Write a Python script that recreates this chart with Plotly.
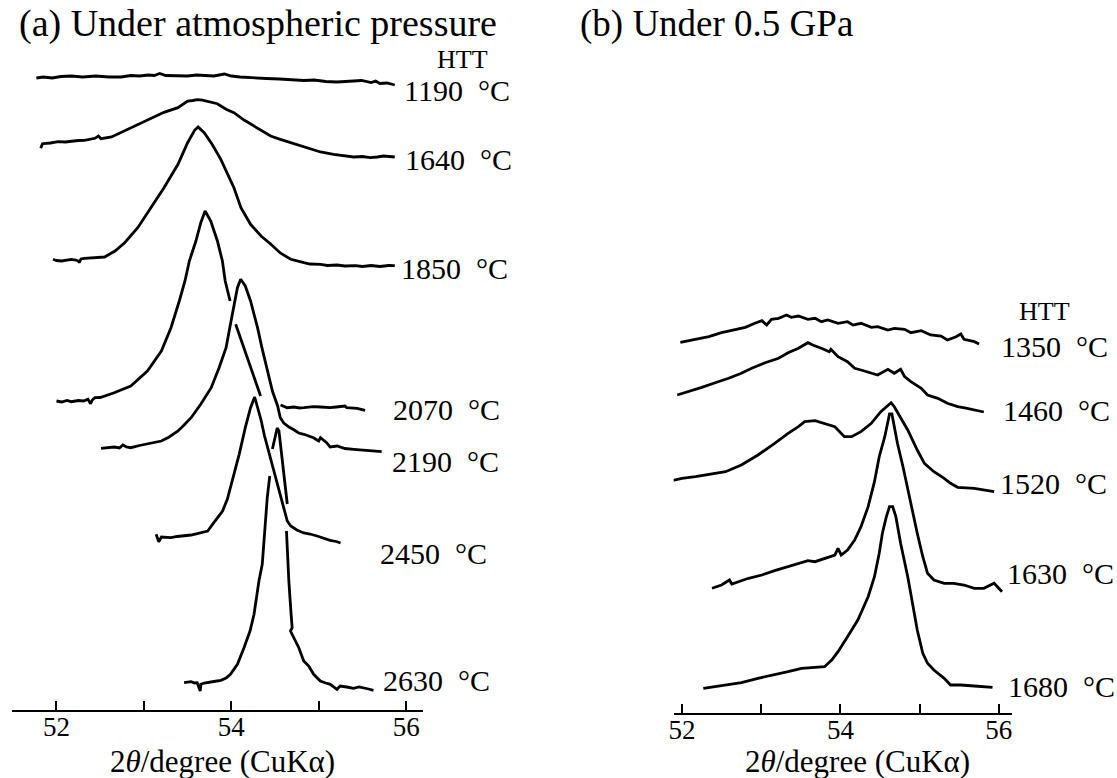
import plotly.graph_objects as go

FONT = "Liberation Serif, Times New Roman, serif"

# ---------------- Panel (a): under atmospheric pressure ----------------
a_htt = ["1190 °C", "1640 °C", "1850 °C", "2070 °C", "2190 °C", "2450 °C", "2630 °C"]

a1190_x = [51.77, 51.85, 51.95, 52.05, 52.17, 52.30, 52.45, 52.60, 52.74, 52.85, 52.95, 53.05, 53.12,
           53.18, 53.25, 53.35, 53.50, 53.60, 53.70, 53.80, 53.92, 54.00, 54.10, 54.26, 54.40, 54.55,
           54.70, 54.83, 54.95, 55.08, 55.21, 55.35, 55.49, 55.60, 55.65, 55.70, 55.78, 55.87]
a1190_y = [632, 633, 632, 633.5, 634, 633, 634, 633, 633, 634.5, 634, 635, 634.5,
           636.5, 634.5, 634, 634, 635, 634.5, 634, 636, 634, 633, 632, 631.5, 631,
           630.5, 629.5, 630, 628.5, 628, 628.5, 629.5, 627.5, 629, 626.5, 627, 625]

a1640_x = [51.82, 51.84, 51.93, 52.02, 52.10, 52.17, 52.25, 52.32, 52.44, 52.48, 52.51, 52.63, 52.78,
           52.93, 53.08, 53.23, 53.39, 53.50, 53.56, 53.61, 53.67, 53.73, 53.84, 53.94, 54.03, 54.15,
           54.28, 54.34, 54.45, 54.56, 54.64, 54.72, 54.87, 55.02, 55.17, 55.28, 55.40, 55.50, 55.59,
           55.67, 55.74, 55.87]
a1640_y = [561.7, 566.3, 567, 568.3, 568, 569, 569.5, 569.7, 571.7, 574, 571.3, 573, 579,
           585, 591.7, 597.7, 602.3, 609, 609.5, 610.3, 609.8, 608.3, 606.3, 600.7, 597.3, 589.7,
           583, 579.7, 574, 570.7, 568.5, 566.3, 561.7, 558, 555.7, 554.5, 553, 553.5, 552.3,
           553, 554, 553]

a1850_x = [51.96, 52.00, 52.06, 52.11, 52.17, 52.22, 52.25, 52.26, 52.28, 52.32, 52.43, 52.55, 52.67,
           52.78, 52.93, 53.08, 53.23, 53.39, 53.50, 53.58, 53.62, 53.69, 53.78, 53.88, 53.96, 54.03,
           54.11, 54.22, 54.34, 54.45, 54.56, 54.68, 54.83, 54.90, 55.02, 55.10, 55.21, 55.30, 55.42,
           55.50, 55.60, 55.70, 55.80, 55.87]
a1850_y = [450.7, 449.5, 449, 450, 450.7, 450, 449, 447.3, 451, 451.7, 452, 453, 459,
           467.3, 482.3, 502.3, 522.3, 545.7, 567.3, 579.7, 583, 577.3, 565.7, 550.7, 535, 522.3,
           502.3, 485.7, 474, 466, 457, 450.7, 447.3, 446, 445.7, 444.5, 445, 444, 444.3,
           443.5, 444.5, 443.5, 444.5, 444.3]

# None marks where the trace passes behind a lower trace
a2070_x = [52.00, 52.06, 52.12, 52.17, 52.25, 52.31, 52.36, 52.39, 52.41, 52.44, 52.50, 52.55, 52.66,
           52.85, 53.04, 53.20, 53.31, 53.405, 53.47, 53.52, 53.595, 53.651, 53.70, 53.765, 53.841,
           53.898, 53.93, 53.986, None,
           54.05, 54.145, 54.24, 54.335, None,
           54.563, 54.64, 54.715, 54.78, 54.83, 54.94, 55.02, 55.13, 55.20, 55.30, 55.32, 55.44, 55.53]
a2070_y = [309, 308, 309.5, 308.3, 309.5, 309, 310.7, 306.3, 310, 312.3, 312.5, 314, 317.3,
           324, 339, 359, 382.3, 409, 429, 449, 469, 487.3, 499, 489, 469,
           449, 429, 409, None,
           385.7, 362.3, 339, 314, None,
           305, 302.3, 303, 302, 302.3, 303.3, 303, 302.3, 303, 304, 302.3, 301.7, 299.7]

a2190_x = [52.51, 52.58, 52.66, 52.72, 52.76, 52.80, 52.85, 52.95, 53.04, 53.08, 53.14, 53.20, 53.29,
           53.39, 53.46, 53.54, 53.65, 53.77, 53.86, 53.94, 53.99, 54.03, 54.07, 54.107, 54.16,
           54.22, 54.30, 54.35, 54.41, 54.47, 54.53, 54.56, 54.60, 54.66, 54.72, 54.77, 54.83,
           54.88, 54.94, 55.00, 55.02, 55.09, 55.13, 55.21, 55.30, 55.40, 55.50, 55.59, 55.65, 55.72]
a2190_y = [261.7, 262.5, 263, 262, 265, 263, 262.3, 264.5, 266.3, 267.3, 268, 269, 273,
           279, 285, 292.3, 305.7, 322.3, 342.3, 362.3, 385.7, 405.7, 422.3, 430.7, 424,
           409, 382.3, 362.3, 339, 319, 304, 292.3, 287, 283, 280, 277, 275.7,
           274, 272.3, 269, 272.3, 267.3, 263, 264, 261.5, 260.7, 260, 259.7, 259.5, 258.3]

a2450_x = [53.14, 53.17, 53.20, 53.25, 53.31, 53.38, 53.46, 53.54, 53.61, 53.68, 53.73, 53.80, 53.90,
           53.955, 54.01, 54.05, 54.09, 54.16, 54.22, 54.267, 54.30, 54.34, 54.38, 54.43, 54.49,
           54.53, 54.57, 54.61, 54.64, 54.68, 54.75, 54.83, 54.90, 54.98, 55.05, 55.13, 55.20, 55.25]
a2450_y = [175.7, 168.3, 173, 172.5, 172.3, 173.5, 174, 175, 176.3, 178, 179, 187.3, 199,
           211, 229, 242, 255.7, 282.3, 302.3, 313, 303, 290, 274, 258, 239,
           226, 212, 198, 189, 184, 180, 177, 176, 174, 172, 169.7, 168.5, 167]

a2630_x = [53.46, 53.50, 53.54, 53.58, 53.61, 53.644, 53.652, 53.69, 53.73, 53.80, 53.88, 53.94, 53.99,
           54.07, 54.145, 54.214, 54.26, 54.316, 54.354, 54.384, 54.411, 54.44, None,
           54.47, 54.50, 54.525, 54.545, 54.58, 54.605, 54.625, 54.64, None,
           54.631, 54.639, 54.658, 54.684, 54.696, 54.677, 54.715, 54.772, 54.828, 54.885, 54.942,
           55.018, 55.08, 55.132, 55.208, 55.246, 55.32, 55.398, 55.46, 55.512, 55.57, 55.626]
a2630_y = [27.3, 28, 28.3, 27, 27.3, 19, 25.7, 27, 27.3, 28.5, 29.7, 32, 35.7,
           45.7, 62.3, 79, 95.7, 129, 145.7, 179, 212.3, 234, None,
           261, 274, 282, 279, 250, 228, 212, 206, None,
           179, 162.3, 129, 95.7, 82.3, 79, 72.3, 62.3, 49, 44, 35.7,
           29, 27, 25.7, 20.7, 24, 23, 21.7, 23, 22.3, 21, 19.7]

# ---------------- Panel (b): under 0.5 GPa ----------------
b_htt = ["1350 °C", "1460 °C", "1520 °C", "1630 °C", "1680 °C"]

b1350_x = [51.98, 52.13, 52.34, 52.50, 52.67, 52.80, 52.92, 53.01, 53.07, 53.13, 53.22, 53.32, 53.38,
           53.47, 53.59, 53.68, 53.76, 53.84, 53.97, 54.09, 54.16, 54.26, 54.39, 54.47, 54.60, 54.68,
           54.81, 54.89, 55.02, 55.14, 55.27, 55.35, 55.46, 55.52, 55.56, 55.69, 55.75]
b1350_y = [370.2, 372.5, 375.8, 379.8, 383.2, 385.2, 389.2, 391.8, 387.5, 393.2, 394.2, 397.5, 395.2,
           396.5, 393.2, 394.2, 390.8, 392.5, 389.2, 390.8, 387.5, 389.2, 385.2, 385.8, 382.5, 384.2,
           383.2, 379.8, 381.8, 377.5, 376.5, 372.5, 375.8, 378.5, 373.2, 370.8, 368.5]

b1460_x = [51.94, 52.08, 52.25, 52.42, 52.59, 52.75, 52.88, 53.05, 53.22, 53.34, 53.47, 53.59, 53.65,
           53.76, 53.86, 53.88, 53.97, 54.09, 54.18, 54.26, 54.39, 54.47, 54.60, 54.68, 54.76, 54.81,
           54.89, 55.02, 55.10, 55.23, 55.35, 55.48, 55.60, 55.69, 55.81]
b1460_y = [317.5, 320.8, 325.2, 329.8, 334.2, 339.2, 344.2, 349.8, 354.2, 359.8, 364.2, 369.8, 367.5,
           364.2, 360.8, 363.2, 355.8, 350.8, 344.2, 342.5, 339.2, 337.5, 343.2, 339.2, 343.2, 335.8,
           330.8, 324.2, 317.5, 314.2, 309.2, 305.8, 304.2, 302.5, 300.5]

b1520_x = [51.87, 52.00, 52.17, 52.38, 52.55, 52.75, 52.96, 53.17, 53.34, 53.47, 53.55, 53.68, 53.80,
           53.93, 54.05, 54.14, 54.26, 54.39, 54.51, 54.60, 54.64, 54.68, 54.74, 54.85, 54.97, 55.06,
           55.18, 55.31, 55.39, 55.48, 55.69, 55.81, 55.94]
b1520_y = [231.8, 234.2, 235.8, 238.5, 240.8, 247.5, 257.5, 269.2, 279.2, 285.8, 290.8, 291.8, 289.2,
           285.8, 275.8, 275.8, 280.8, 289.2, 300.8, 307.5, 309.8, 305.8, 297.5, 282.5, 262.5, 249.2,
           240.8, 234.2, 229.2, 225.2, 224.2, 222.5, 220.8]

b1630_x = [52.38, 52.50, 52.60, 52.63, 52.84, 53.01, 53.17, 53.34, 53.47, 53.59, 53.68, 53.80, 53.93,
           53.97, 54.01, 54.09, 54.18, 54.26, 54.35, 54.43, 54.49, 54.56, 54.59, 54.62, 54.65, 54.67,
           54.72, 54.79, 54.85, 54.91, 54.97, 55.04, 55.10, 55.18, 55.31, 55.43, 55.56, 55.69, 55.81,
           55.94, 56.04]
b1630_y = [124.2, 127.5, 132.5, 128.5, 134.2, 137.5, 141.8, 145.8, 149.2, 151.8, 150.8, 154.2, 157.5,
           164.2, 157.5, 162.5, 172.5, 185.8, 205.8, 230.8, 255.8, 275.8, 289.2, 298.5, 298.5, 289.2,
           269.2, 245.8, 222.5, 202.5, 179.2, 155.8, 139.2, 132.5, 129.2, 129.2, 127.5, 124.2, 124.2,
           129.2, 120.8]

b1680_x = [52.27, 52.42, 52.59, 52.75, 52.96, 53.17, 53.34, 53.51, 53.68, 53.80, 53.89, 53.97, 54.09,
           54.22, 54.35, 54.43, 54.49, 54.53, 54.58, 54.62, 54.66, 54.70, 54.76, 54.85, 54.91, 54.97,
           55.04, 55.10, 55.18, 55.31, 55.39, 55.52, 55.69, 55.81, 55.92]
b1680_y = [24.2, 25.8, 27.5, 29.8, 34.2, 37.5, 40.8, 44.2, 45.2, 45.8, 52.5, 60.8, 75.8,
           92.5, 115.8, 135.8, 159.2, 179.2, 195.8, 205.8, 205.8, 195.8, 169.2, 135.8, 109.2, 82.5,
           59.2, 49.2, 42.5, 34.2, 27.5, 27.5, 26.5, 25.8, 25.2]

tick_vals = [52, 53, 54, 55, 56]
tick_text = ["52", "", "54", "", "56"]

# label anchor positions (2θ, stacked intensity)
a_lab_x = [55.95, 55.96, 55.92, 55.83, 55.81, 55.68, 55.71]
a_lab_y = [619.5, 551, 442, 301, 249, 157, 30]
b_lab_x = [56.00, 56.03, 55.99, 56.08, 56.09]
b_lab_y = [366.5, 301.8, 229.2, 139.5, 25.8]

fig = go.Figure()
line = dict(color="black", width=2.8)
for xs, ys in [(a1190_x, a1190_y), (a1640_x, a1640_y), (a1850_x, a1850_y), (a2070_x, a2070_y),
               (a2190_x, a2190_y), (a2450_x, a2450_y), (a2630_x, a2630_y)]:
    fig.add_trace(go.Scatter(x=xs, y=ys, mode="lines", line=line, xaxis="x", yaxis="y",
                             connectgaps=False, hoverinfo="skip"))
for xs, ys in [(b1350_x, b1350_y), (b1460_x, b1460_y), (b1520_x, b1520_y),
               (b1630_x, b1630_y), (b1680_x, b1680_y)]:
    fig.add_trace(go.Scatter(x=xs, y=ys, mode="lines", line=line, xaxis="x2", yaxis="y2",
                             connectgaps=False, hoverinfo="skip"))

W, H = 1117, 778
ax_common = dict(showline=True, linecolor="black", linewidth=2, ticks="inside", ticklen=9,
                 tickwidth=2, tickcolor="black", tickvals=tick_vals, ticktext=tick_text,
                 tickfont=dict(family=FONT, size=27, color="black"), showgrid=False,
                 zeroline=False, fixedrange=True, ticklabelstandoff=-8)
fig.update_layout(
    width=W, height=H, margin=dict(l=0, r=0, t=0, b=0),
    paper_bgcolor="white", plot_bgcolor="rgba(0,0,0,0)", showlegend=False,
    xaxis=dict(domain=[7 / W, 420 / W], range=[51.491, 56.194], anchor="y", **ax_common),
    yaxis=dict(domain=[(H - 710) / H, 1], range=[0, 710], visible=False, anchor="x"),
    xaxis2=dict(domain=[671.7 / W, 1011.7 / W], range=[51.896, 56.168], anchor="y2", **ax_common),
    yaxis2=dict(domain=[(H - 712.5) / H, 1], range=[0, 712.5], visible=False, anchor="x2"),
)

ann = []
lab_font = dict(family=FONT, size=30, color="black")
for t, x, y in zip(a_htt, a_lab_x, a_lab_y):
    ann.append(dict(text=t.replace(" ", "\u00a0\u00a0"), x=x, y=y, xref="x", yref="y",
                    xanchor="left", yanchor="middle", showarrow=False, font=lab_font))
for t, x, y in zip(b_htt, b_lab_x, b_lab_y):
    ann.append(dict(text=t.replace(" ", "\u00a0\u00a0"), x=x, y=y, xref="x2", yref="y2",
                    xanchor="left", yanchor="middle", showarrow=False, font=lab_font))
htt_font = dict(family=FONT, size=26, color="black")
ann.append(dict(text="HTT", x=460 / W, y=1 - 60 / H, xref="paper", yref="paper",
                xanchor="center", yanchor="middle", showarrow=False, font=htt_font))
ann.append(dict(text="HTT", x=1044 / W, y=1 - 311 / H, xref="paper", yref="paper",
                xanchor="center", yanchor="middle", showarrow=False, font=htt_font))
ann.append(dict(text="(a) Under atmospheric pressure", x=12 / W, y=1 - 24 / H, xref="paper",
                yref="paper", xanchor="left", yanchor="middle", showarrow=False,
                font=dict(family=FONT, size=38, color="black")))
ann.append(dict(text="(b) Under 0.5 GPa", x=576 / W, y=1 - 24 / H, xref="paper",
                yref="paper", xanchor="left", yanchor="middle", showarrow=False,
                font=dict(family=FONT, size=37, color="black")))
xt_font = dict(family=FONT, size=31, color="black")
ann.append(dict(text="2<i>θ</i>/degree (CuKα)", x=218 / W, y=1 - 761 / H, xref="paper",
                yref="paper", xanchor="center", yanchor="middle", showarrow=False, font=xt_font))
ann.append(dict(text="2<i>θ</i>/degree (CuKα)", x=856 / W, y=1 - 761 / H, xref="paper",
                yref="paper", xanchor="center", yanchor="middle", showarrow=False, font=xt_font))
fig.update_layout(annotations=ann)

fig.write_html("out.html", config={"displayModeBar": False, "staticPlot": True},
               post_script="document.body.style.margin='0';document.body.style.padding='0';")
